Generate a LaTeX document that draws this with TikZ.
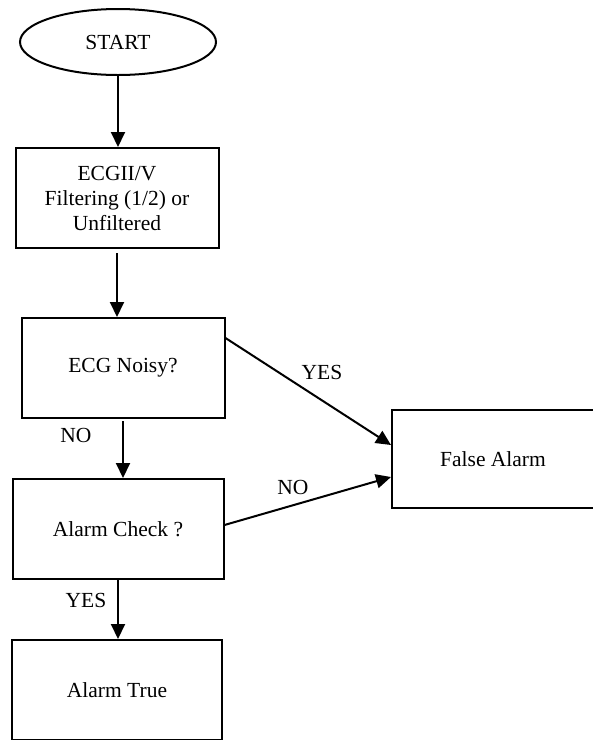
\documentclass[tikz,border=0pt]{standalone}
\usepackage{fontspec}
\setmainfont{Liberation Serif}
\newfontfamily\tnr{Liberation Serif}
\usetikzlibrary{shapes.geometric,arrows.meta}
\begin{document}
\begin{tikzpicture}[x=1pt,y=-1pt,
  box/.style={draw,line width=2pt,minimum width=203pt,minimum height=100pt,align=center,inner sep=0pt},
  arr/.style={line width=2pt,-{Triangle[length=15pt,width=14pt]}},
  lbl/.style={inner sep=0pt},
  every node/.style={font=\tnr\fontsize{21.5}{25}\selectfont}]
\useasboundingbox (0,0) rectangle (593,740);
\node[draw,ellipse,line width=2pt,minimum width=196pt,minimum height=66pt] (start) at (118,42) {START};
\node[box] (filt) at (117,198) {ECGII/V\\Filtering (1/2) or\\Unfiltered};
\node[box] (noisy) at (123,368) {ECG Noisy?};
\node[box,minimum width=211pt] (check) at (118,529) {Alarm Check ?};
\node[box,minimum width=210pt] (true) at (117,690) {Alarm True};
\node[box,minimum width=202pt,minimum height=98pt] (false) at (493,459) {False Alarm};
\draw[arr] (start.south) -- (start.south |- filt.north);
\draw[arr] (filt.south)++(0,4) coordinate (fs) -- (fs |- noisy.north);
\draw[arr] (noisy.south)++(0,2) coordinate (ns) -- (ns |- check.north);
\draw[arr] (check.south) -- (check.south |- true.north);
\draw[arr] (noisy.east)++(0,-30) coordinate (n1) -- (false.west |- 0,445) coordinate (f1);
\draw[arr] (check.east)++(0,-4) coordinate (c1) -- (false.west |- 0,477);
\node[lbl] (yes1) at (322,372) {YES};
\node[lbl] (no1) at (293,487) {NO};
\node[lbl] (no2) at (76,435) {NO};
\node[lbl] (yes2) at (86,600) {YES};
\end{tikzpicture}
\end{document}
